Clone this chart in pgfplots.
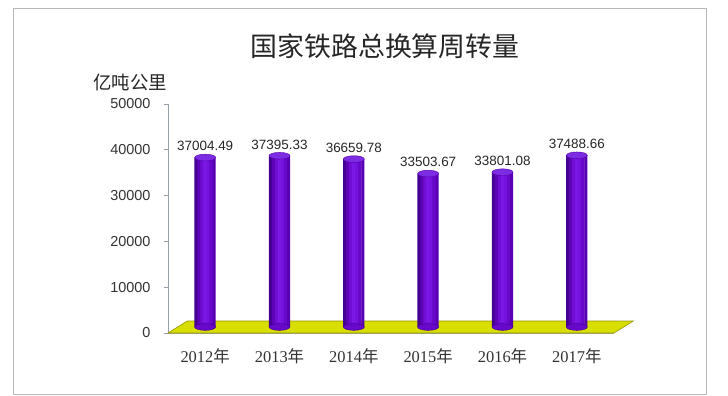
\documentclass[border=0pt]{standalone}
\usepackage{pgfplots}
\pgfplotsset{compat=1.18}
\usepackage{fontspec}
\setmainfont{Liberation Serif}
\newfontfamily\cjk{Noto Sans CJK SC}
\newfontfamily\arial{Liberation Sans}
\definecolor{barL}{RGB}{60,0,135}
\definecolor{barR}{RGB}{85,0,175}
\definecolor{barTop}{RGB}{125,45,225}
\definecolor{floorY}{RGB}{215,222,0}
\definecolor{floorE}{RGB}{150,150,0}
\definecolor{axgray}{RGB}{150,160,170}
\definecolor{s0}{RGB}{68,0,145}
\definecolor{s1}{RGB}{92,4,182}
\definecolor{s2}{RGB}{112,14,212}
\definecolor{s3}{RGB}{124,24,230}
\definecolor{s4}{RGB}{118,18,222}
\definecolor{s5}{RGB}{104,8,202}
\definecolor{s6}{RGB}{88,0,180}
\pgfplotstableread{
x y lab
0 37004.49 37004.49
1 37395.33 37395.33
2 36659.78 36659.78
3 33503.67 33503.67
4 33801.08 33801.08
5 37488.66 37488.66
}\datatab
\pgfplotstableread{
x y
0 0
1 0
2 0
3 0
4 0
5 0
}\basetab
\begin{document}
\begin{tikzpicture}[x=1bp,y=1bp]
\path[use as bounding box] (0,0) rectangle (728,395);
\draw[gray!55, line width=0.8bp] (13,1) rectangle (706,387);
\node[font=\cjk\fontsize{27}{27}\selectfont, text=black!85] at (385,349) {国家铁路总换算周转量};
\node[font=\cjk\fontsize{18.5}{18.5}\selectfont, text=black!85] at (130,313) {亿吨公里};
\begin{axis}[
  at={(168bp,62bp)}, anchor=south west, scale only axis,
  width=446bp, height=229bp,
  xmin=-0.5, xmax=5.5, ymin=0, ymax=50000,
  clip=false,
  axis x line=bottom, axis y line=left,
  axis line style={-, axgray, line width=0.8bp},
  xtick={0,...,5},
  xticklabels={{2012{\cjk 年}},{2013{\cjk 年}},{2014{\cjk 年}},{2015{\cjk 年}},{2016{\cjk 年}},{2017{\cjk 年}}},
  xticklabel style={font=\fontsize{16.5}{16.5}\selectfont, text=black!80, yshift=-8bp},
  x tick style={draw=none},
  extra x ticks={-0.5,0.5,1.5,2.5,3.5,4.5,5.5},
  extra x tick labels={},
  extra x tick style={tick style={draw=axgray, line width=0.8bp}, major tick length=5bp},
  ytick={0,10000,...,50000},
  scaled y ticks=false,
  yticklabel style={font=\arial\fontsize{14.5}{14.5}\selectfont, text=black!80, xshift=-10bp},
  y tick style={axgray, line width=0.8bp},
  tick align=outside, major tick length=4bp,
  /pgf/number format/assume math mode=true,
  /pgf/number format/1000 sep={},
]
% floor
\fill[floorY, draw=floorE, line width=0.6bp] (axis cs:-0.5,0) -- (axis cs:5.5,0) -- (axis cs:5.76,2620) -- (axis cs:-0.24,2620) -- cycle;
% bottom rounding of cylinders
\addplot[only marks, mark=*, mark size=10.5bp, yshift=6bp,
  mark options={yscale=0.32, fill=s5, draw=barL}] table[x=x,y=y] {\basetab};
% cylinder bodies as shaded strips
\addplot[ybar, bar width=3.4bp, bar shift=-9bp, draw=none, fill=s0, yshift=6bp] table[x=x,y=y] {\datatab};
\addplot[ybar, bar width=3.4bp, bar shift=-6bp, draw=none, fill=s1, yshift=6bp] table[x=x,y=y] {\datatab};
\addplot[ybar, bar width=3.4bp, bar shift=-3bp, draw=none, fill=s2, yshift=6bp] table[x=x,y=y] {\datatab};
\addplot[ybar, bar width=3.4bp, bar shift=0bp, draw=none, fill=s3, yshift=6bp] table[x=x,y=y] {\datatab};
\addplot[ybar, bar width=3.4bp, bar shift=3bp, draw=none, fill=s4, yshift=6bp] table[x=x,y=y] {\datatab};
\addplot[ybar, bar width=3.4bp, bar shift=6bp, draw=none, fill=s5, yshift=6bp] table[x=x,y=y] {\datatab};
\addplot[ybar, bar width=3bp, bar shift=9bp, draw=none, fill=s6, yshift=6bp] table[x=x,y=y] {\datatab};
% cylinder tops with value labels
\addplot[only marks, mark=*, mark size=10.5bp, yshift=6bp,
  mark options={yscale=0.32, fill=barTop, draw=barR},
  point meta=explicit symbolic,
  nodes near coords,
  nodes near coords align={anchor=south},
  every node near coord/.style={font=\arial\fontsize{13.5}{13.5}\selectfont, text=black!85, yshift=3bp}
  ] table[x=x,y=y,meta=lab] {\datatab};
\end{axis}
\end{tikzpicture}
\end{document}
